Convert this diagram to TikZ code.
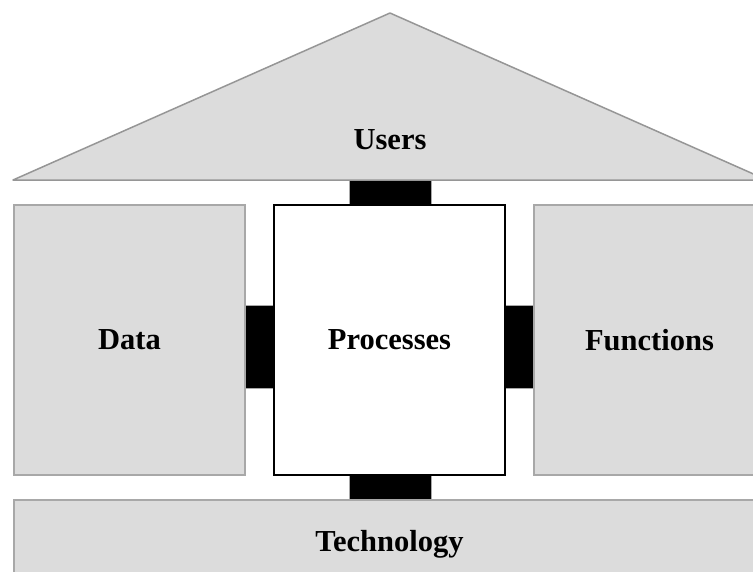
\documentclass[tikz,border=0pt]{standalone}
\usepackage{fontspec}
\setmainfont{Liberation Serif}
\usetikzlibrary{backgrounds}
\definecolor{boxfill}{RGB}{220,220,220}
\definecolor{boxline}{RGB}{168,168,168}
\definecolor{roofline}{RGB}{150,150,150}
\begin{document}
\begin{tikzpicture}[x=1pt, y=-1pt, font=\fontsize{30.5}{36}\selectfont\bfseries,
  block/.style={draw=boxline, fill=boxfill, line width=1.5pt, inner sep=0pt, outer sep=0pt},
  core/.style={draw=black, fill=white, line width=1.5pt, inner sep=0pt, outer sep=0pt},
  link/.style={fill=black, draw=boxline, line width=1pt}]
  \useasboundingbox (0,0) rectangle (753,571);
  \clip (0,0) rectangle (753,571);
  % ---- roof ----
  \draw[roofline, fill=boxfill, line width=1.5pt, line join=round]
    (13,180) coordinate (roofL) -- (390,13) coordinate (apex) -- (767,180) coordinate (roofR) -- cycle;
  \node (users) at (390,140) {Users};
  % ---- pillars and base ----
  \node[block, minimum width=231pt, minimum height=270pt] (data) at (129.5,340) {Data};
  \node[core, minimum width=231pt, minimum height=270pt] (proc) at (389.5,340) {Processes};
  \node[block, minimum width=231pt, minimum height=270pt] (func) at (649.5,340) {Functions};
  \node[block, minimum width=751pt, minimum height=88pt] (tech) at (389.5,544) {Technology};
  % ---- black joints between the parts ----
  \begin{scope}[on background layer]
    \draw[link] ([xshift=-40.5pt]proc.north |- roofL) rectangle ([xshift=41.5pt]proc.north);
    \draw[link] ([yshift=35pt]data.east) rectangle ([yshift=-48pt]proc.west);
    \draw[link] ([yshift=35pt]proc.east) rectangle ([yshift=-48pt]func.west);
    \draw[link] ([xshift=-40.5pt]proc.south) rectangle ([xshift=41.5pt]proc.south |- tech.north);
  \end{scope}
\end{tikzpicture}
\end{document}
